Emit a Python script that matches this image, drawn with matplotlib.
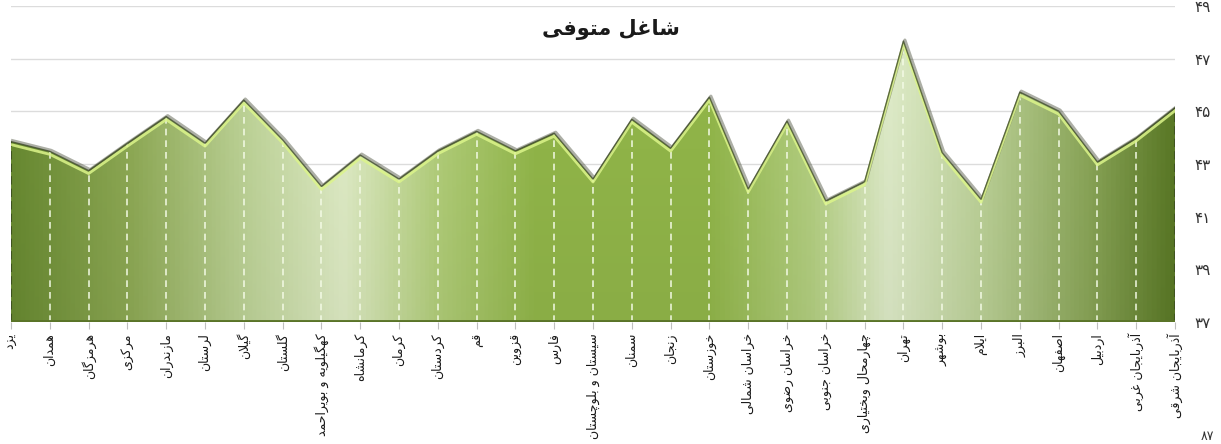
import numpy as np
import matplotlib
matplotlib.use('Agg')
import matplotlib.pyplot as plt
from matplotlib.colors import LinearSegmentedColormap
from matplotlib import transforms
from matplotlib.patches import Polygon

provinces = ["یزد", "همدان", "هرمزگان", "مرکزی", "مازندران", "لرستان", "گیلان",
             "گلستان", "کهگیلویه و بویراحمد", "کرمانشاه", "کرمان", "کردستان", "قم",
             "قزوین", "فارس", "سیستان و بلوچستان", "سمنان", "زنجان", "خوزستان",
             "خراسان شمالی", "خراسان رضوی", "خراسان جنوبی", "چهارمحال وبختیاری",
             "تهران", "بوشهر", "ایلام", "البرز", "اصفهان", "اردبیل",
             "آذربایجان غربی", "آذربایجان شرقی"]
values = [43.85, 43.48, 42.75, 43.79, 44.8, 43.79, 45.43, 43.92, 42.15, 43.34,
          42.43, 43.5, 44.24, 43.5, 44.17, 42.43, 44.7, 43.6, 45.54, 42.05,
          44.63, 41.6, 42.33, 47.67, 43.43, 41.66, 45.73, 45.01, 43.08, 43.99, 45.14]
yticks = [37, 39, 41, 43, 45, 47, 49]
title = "شاغل متوفی"

# ---- minimal Persian shaping (presentation forms) ----
FORMS = {
    'ا': (0xFE8D, 0xFE8E), 'آ': (0xFE81, 0xFE82),
    'ب': (0xFE8F, 0xFE90, 0xFE91, 0xFE92), 'پ': (0xFB56, 0xFB57, 0xFB58, 0xFB59),
    'ت': (0xFE95, 0xFE96, 0xFE97, 0xFE98), 'ث': (0xFE99, 0xFE9A, 0xFE9B, 0xFE9C),
    'ج': (0xFE9D, 0xFE9E, 0xFE9F, 0xFEA0), 'چ': (0xFB7A, 0xFB7B, 0xFB7C, 0xFB7D),
    'ح': (0xFEA1, 0xFEA2, 0xFEA3, 0xFEA4), 'خ': (0xFEA5, 0xFEA6, 0xFEA7, 0xFEA8),
    'د': (0xFEA9, 0xFEAA), 'ذ': (0xFEAB, 0xFEAC), 'ر': (0xFEAD, 0xFEAE),
    'ز': (0xFEAF, 0xFEB0), 'ژ': (0xFB8A, 0xFB8B),
    'س': (0xFEB1, 0xFEB2, 0xFEB3, 0xFEB4), 'ش': (0xFEB5, 0xFEB6, 0xFEB7, 0xFEB8),
    'ص': (0xFEB9, 0xFEBA, 0xFEBB, 0xFEBC), 'ض': (0xFEBD, 0xFEBE, 0xFEBF, 0xFEC0),
    'ط': (0xFEC1, 0xFEC2, 0xFEC3, 0xFEC4), 'ظ': (0xFEC5, 0xFEC6, 0xFEC7, 0xFEC8),
    'ع': (0xFEC9, 0xFECA, 0xFECB, 0xFECC), 'غ': (0xFECD, 0xFECE, 0xFECF, 0xFED0),
    'ف': (0xFED1, 0xFED2, 0xFED3, 0xFED4), 'ق': (0xFED5, 0xFED6, 0xFED7, 0xFED8),
    'ک': (0xFB8E, 0xFB8F, 0xFB90, 0xFB91), 'گ': (0xFB92, 0xFB93, 0xFB94, 0xFB95),
    'ل': (0xFEDD, 0xFEDE, 0xFEDF, 0xFEE0), 'م': (0xFEE1, 0xFEE2, 0xFEE3, 0xFEE4),
    'ن': (0xFEE5, 0xFEE6, 0xFEE7, 0xFEE8), 'و': (0xFEED, 0xFEEE),
    'ه': (0xFEE9, 0xFEEA, 0xFEEB, 0xFEEC), 'ی': (0xFBFC, 0xFBFD, 0xFBFE, 0xFBFF),
}
LAMALEF = {'ا': (0xFEFB, 0xFEFC), 'آ': (0xFEF5, 0xFEF6)}


def shape(text):
    out = []
    i = 0
    n = len(text)
    while i < n:
        c = text[i]
        if c not in FORMS:
            out.append(c)
            i += 1
            continue
        prev = text[i - 1] if i > 0 else None
        prev_conn = prev is not None and prev in FORMS and len(FORMS[prev]) == 4
        if c == 'ل' and i + 1 < n and text[i + 1] in LAMALEF:
            f = LAMALEF[text[i + 1]]
            out.append(chr(f[1] if prev_conn else f[0]))
            i += 2
            continue
        nxt = text[i + 1] if i + 1 < n else None
        dual = len(FORMS[c]) == 4
        next_conn = dual and nxt is not None and nxt in FORMS
        f = FORMS[c]
        if prev_conn and next_conn:
            g = f[3]
        elif prev_conn:
            g = f[1]
        elif next_conn:
            g = f[2]
        else:
            g = f[0]
        out.append(chr(g))
        i += 1
    return ''.join(reversed(out))


def fa_digits(v):
    return ''.join(chr(0x06F0 + int(d)) for d in str(v))


plt.rcParams['font.family'] = ['DejaVu Sans']

W, H = 1221, 444
fig = plt.figure(figsize=(W / 100, H / 100), dpi=100)
fig.patch.set_facecolor('white')
left_px, right_px, top_px, bot_px = 11, 1175, 6, 322
ax = fig.add_axes([left_px / W, 1 - bot_px / H, (right_px - left_px) / W, (bot_px - top_px) / H])
ax.set_facecolor('white')

x = np.arange(len(values))
vals = np.array(values)
ax.set_xlim(0, len(values) - 1)
ax.set_ylim(37, 49)

# gridlines
for t in yticks[1:]:
    ax.axhline(t, color='#dcdcdc', lw=1.0, zorder=0)

# gradient image clipped to area
stops = [(0.00, '#6a8c32'), (0.10, '#8fab55'), (0.20, '#bfd598'), (0.285, '#e2efc8'),
         (0.37, '#b2cf78'), (0.45, '#93b84a'), (0.60, '#93b84a'), (0.69, '#b6d283'),
         (0.755, '#e1eecb'), (0.84, '#bcd296'), (0.93, '#8aa657'), (1.00, '#5c7b27')]
cmap = LinearSegmentedColormap.from_list('g', stops)
nx, ny = 1200, 300
xs = np.linspace(0, 1, nx)
ys = np.linspace(0, 1, ny)
base = cmap(xs)[:, :3]
img = np.tile(base[None, :, :], (ny, 1, 1))
shade = 1 - 0.06 * (1 - ys)[:, None, None]
img = np.clip(img * shade, 0, 1)
im = ax.imshow(img, extent=[0, len(values) - 1, 37, 49], origin='lower',
               aspect='auto', zorder=1, interpolation='bilinear')
verts = [(0, 37)] + list(zip(x, vals)) + [(len(values) - 1, 37)]
poly = Polygon(verts, closed=True, transform=ax.transData, facecolor='none', edgecolor='none')
ax.add_patch(poly)
im.set_clip_path(poly)

# drop lines
ax.vlines(x[1:-1], 37, vals[1:-1], colors='#f4fbe6', linestyles=(0, (4, 3)), lw=1.2,
          alpha=0.9, zorder=2)
ax.vlines([0, len(values) - 1], 37, [vals[0], vals[-1]], colors='#3f5320',
          linestyles=(0, (4, 2)), lw=1.5, zorder=3)

# bevel: highlight just below the top edge, dark edge on top
hl = transforms.offset_copy(ax.transData, fig=fig, x=0, y=-3, units='dots')
ax.plot(x, vals, color='#dcf58a', lw=2.0, alpha=0.85, transform=hl, zorder=3)
sh = transforms.offset_copy(ax.transData, fig=fig, x=1.5, y=1.0, units='dots')
ax.plot(x, vals, color='#4a4f3a', lw=2.2, alpha=0.45, transform=sh, zorder=2.5)
ax.plot(x, vals, color='#3e4a2a', lw=1.0, alpha=0.8, zorder=3.5)

# bottom dark band
ax.axhline(37, color='#5a7428', lw=3.5, zorder=3)

for s in ax.spines.values():
    s.set_visible(False)

ax.set_xticks(x)
ax.set_xticklabels([shape(p) for p in provinces], rotation=90, fontsize=9,
                   color='#1a1a1a', va='top', ha='center')
ax.tick_params(axis='x', length=5, color='#bfbfbf', pad=3)

ax.yaxis.tick_right()
ax.set_yticks(yticks)
ax.set_yticklabels([fa_digits(t) for t in yticks], fontsize=11, color='#333333')
ax.tick_params(axis='y', length=0, pad=14)

fig.text(0.5, 1 - 30 / H, shape(title), ha='center', va='center', fontsize=15,
         fontweight='bold', color='#1a1a1a')

# small number at the bottom-right edge
fig.text(1207 / W, 1 / H, fa_digits(87), ha='center', va='bottom', fontsize=9,
         color='#333333')

fig.savefig('out.png', dpi=100, facecolor='white')
